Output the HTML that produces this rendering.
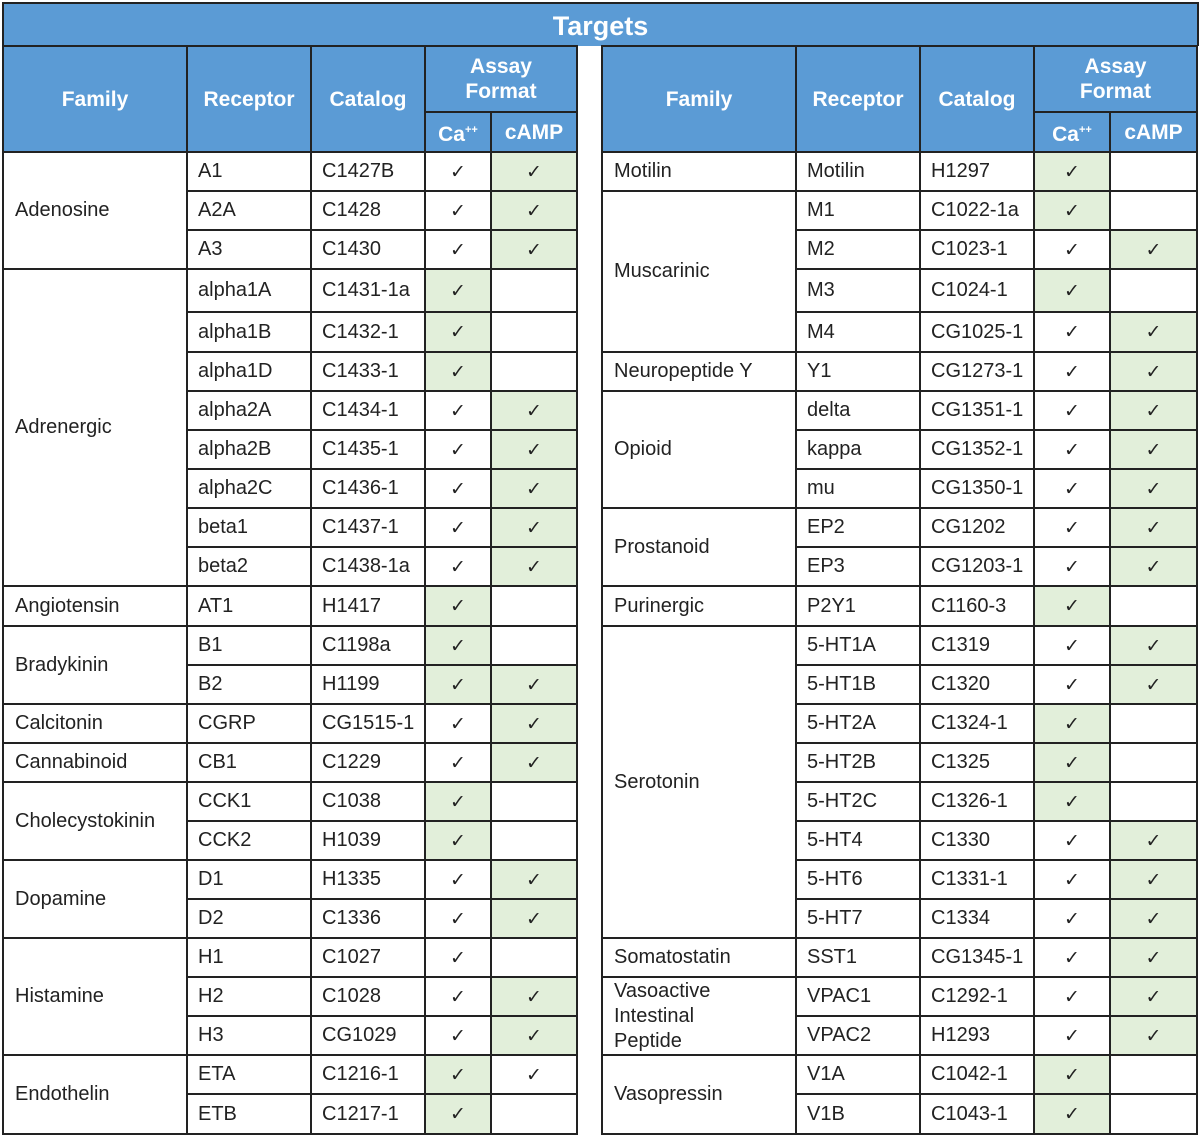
<!DOCTYPE html>
<html><head><meta charset="utf-8"><style>
body{margin:0;width:1200px;height:1137px;background:#fff;position:relative;font-family:"Liberation Sans",sans-serif;}
.title{position:absolute;left:2px;top:2px;width:1193px;height:42px;background:#5b9bd5;border:2px solid #222;border-bottom:none;color:#fff;font-weight:bold;font-size:27px;text-align:center;line-height:44px;}
table{position:absolute;top:45px;border-collapse:collapse;table-layout:fixed;}
td,th{border:2px solid #222;padding:0;font-size:20px;color:#222;}
th{background:#5b9bd5;color:#fff;font-size:21px;font-weight:bold;text-align:center;line-height:25px;}
td{padding-left:10px;white-space:nowrap;}
td.f{padding-left:11px;white-space:normal;line-height:25px;}
td.k{text-align:center;padding:0;font-family:"DejaVu Sans",sans-serif;font-size:19px;}
.g{background:#e2efda;}
sup{font-size:11px;}
</style></head><body>
<div class="title">Targets</div>
<table style="left:2px;width:574px">
<colgroup><col style="width:184px"><col style="width:124px"><col style="width:114px"><col style="width:66px"><col style="width:86px"></colgroup>
<tr style="height:66px"><th rowspan="2">Family</th><th rowspan="2">Receptor</th><th rowspan="2">Catalog</th><th colspan="2">Assay<br>Format</th></tr>
<tr style="height:40px"><th>Ca<sup>++</sup></th><th>cAMP</th></tr>
<tr style="height:39px"><td class="f" rowspan="3">Adenosine</td><td>A1</td><td>C1427B</td><td class="k">✓</td><td class="k g">✓</td></tr>
<tr style="height:39px"><td>A2A</td><td>C1428</td><td class="k">✓</td><td class="k g">✓</td></tr>
<tr style="height:39px"><td>A3</td><td>C1430</td><td class="k">✓</td><td class="k g">✓</td></tr>
<tr style="height:43px"><td class="f" rowspan="8">Adrenergic</td><td>alpha1A</td><td>C1431-1a</td><td class="k g">✓</td><td class="k"></td></tr>
<tr style="height:40px"><td>alpha1B</td><td>C1432-1</td><td class="k g">✓</td><td class="k"></td></tr>
<tr style="height:39px"><td>alpha1D</td><td>C1433-1</td><td class="k g">✓</td><td class="k"></td></tr>
<tr style="height:39px"><td>alpha2A</td><td>C1434-1</td><td class="k">✓</td><td class="k g">✓</td></tr>
<tr style="height:39px"><td>alpha2B</td><td>C1435-1</td><td class="k">✓</td><td class="k g">✓</td></tr>
<tr style="height:39px"><td>alpha2C</td><td>C1436-1</td><td class="k">✓</td><td class="k g">✓</td></tr>
<tr style="height:39px"><td>beta1</td><td>C1437-1</td><td class="k">✓</td><td class="k g">✓</td></tr>
<tr style="height:39px"><td>beta2</td><td>C1438-1a</td><td class="k">✓</td><td class="k g">✓</td></tr>
<tr style="height:40px"><td class="f">Angiotensin</td><td>AT1</td><td>H1417</td><td class="k g">✓</td><td class="k"></td></tr>
<tr style="height:39px"><td class="f" rowspan="2">Bradykinin</td><td>B1</td><td>C1198a</td><td class="k g">✓</td><td class="k"></td></tr>
<tr style="height:39px"><td>B2</td><td>H1199</td><td class="k g">✓</td><td class="k g">✓</td></tr>
<tr style="height:39px"><td class="f">Calcitonin</td><td>CGRP</td><td>CG1515-1</td><td class="k">✓</td><td class="k g">✓</td></tr>
<tr style="height:39px"><td class="f">Cannabinoid</td><td>CB1</td><td>C1229</td><td class="k">✓</td><td class="k g">✓</td></tr>
<tr style="height:39px"><td class="f" rowspan="2">Cholecystokinin</td><td>CCK1</td><td>C1038</td><td class="k g">✓</td><td class="k"></td></tr>
<tr style="height:39px"><td>CCK2</td><td>H1039</td><td class="k g">✓</td><td class="k"></td></tr>
<tr style="height:39px"><td class="f" rowspan="2">Dopamine</td><td>D1</td><td>H1335</td><td class="k">✓</td><td class="k g">✓</td></tr>
<tr style="height:39px"><td>D2</td><td>C1336</td><td class="k">✓</td><td class="k g">✓</td></tr>
<tr style="height:39px"><td class="f" rowspan="3">Histamine</td><td>H1</td><td>C1027</td><td class="k">✓</td><td class="k"></td></tr>
<tr style="height:39px"><td>H2</td><td>C1028</td><td class="k">✓</td><td class="k g">✓</td></tr>
<tr style="height:39px"><td>H3</td><td>CG1029</td><td class="k">✓</td><td class="k g">✓</td></tr>
<tr style="height:39px"><td class="f" rowspan="2">Endothelin</td><td>ETA</td><td>C1216-1</td><td class="k g">✓</td><td class="k">✓</td></tr>
<tr style="height:40px"><td>ETB</td><td>C1217-1</td><td class="k g">✓</td><td class="k"></td></tr>
</table>
<table style="left:601px;width:595px">
<colgroup><col style="width:194px"><col style="width:124px"><col style="width:114px"><col style="width:76px"><col style="width:87px"></colgroup>
<tr style="height:66px"><th rowspan="2">Family</th><th rowspan="2">Receptor</th><th rowspan="2">Catalog</th><th colspan="2">Assay<br>Format</th></tr>
<tr style="height:40px"><th>Ca<sup>++</sup></th><th>cAMP</th></tr>
<tr style="height:39px"><td class="f">Motilin</td><td>Motilin</td><td>H1297</td><td class="k g">✓</td><td class="k"></td></tr>
<tr style="height:39px"><td class="f" rowspan="4">Muscarinic</td><td>M1</td><td>C1022-1a</td><td class="k g">✓</td><td class="k"></td></tr>
<tr style="height:39px"><td>M2</td><td>C1023-1</td><td class="k">✓</td><td class="k g">✓</td></tr>
<tr style="height:43px"><td>M3</td><td>C1024-1</td><td class="k g">✓</td><td class="k"></td></tr>
<tr style="height:40px"><td>M4</td><td>CG1025-1</td><td class="k">✓</td><td class="k g">✓</td></tr>
<tr style="height:39px"><td class="f">Neuropeptide Y</td><td>Y1</td><td>CG1273-1</td><td class="k">✓</td><td class="k g">✓</td></tr>
<tr style="height:39px"><td class="f" rowspan="3">Opioid</td><td>delta</td><td>CG1351-1</td><td class="k">✓</td><td class="k g">✓</td></tr>
<tr style="height:39px"><td>kappa</td><td>CG1352-1</td><td class="k">✓</td><td class="k g">✓</td></tr>
<tr style="height:39px"><td>mu</td><td>CG1350-1</td><td class="k">✓</td><td class="k g">✓</td></tr>
<tr style="height:39px"><td class="f" rowspan="2">Prostanoid</td><td>EP2</td><td>CG1202</td><td class="k">✓</td><td class="k g">✓</td></tr>
<tr style="height:39px"><td>EP3</td><td>CG1203-1</td><td class="k">✓</td><td class="k g">✓</td></tr>
<tr style="height:40px"><td class="f">Purinergic</td><td>P2Y1</td><td>C1160-3</td><td class="k g">✓</td><td class="k"></td></tr>
<tr style="height:39px"><td class="f" rowspan="8">Serotonin</td><td>5-HT1A</td><td>C1319</td><td class="k">✓</td><td class="k g">✓</td></tr>
<tr style="height:39px"><td>5-HT1B</td><td>C1320</td><td class="k">✓</td><td class="k g">✓</td></tr>
<tr style="height:39px"><td>5-HT2A</td><td>C1324-1</td><td class="k g">✓</td><td class="k"></td></tr>
<tr style="height:39px"><td>5-HT2B</td><td>C1325</td><td class="k g">✓</td><td class="k"></td></tr>
<tr style="height:39px"><td>5-HT2C</td><td>C1326-1</td><td class="k g">✓</td><td class="k"></td></tr>
<tr style="height:39px"><td>5-HT4</td><td>C1330</td><td class="k">✓</td><td class="k g">✓</td></tr>
<tr style="height:39px"><td>5-HT6</td><td>C1331-1</td><td class="k">✓</td><td class="k g">✓</td></tr>
<tr style="height:39px"><td>5-HT7</td><td>C1334</td><td class="k">✓</td><td class="k g">✓</td></tr>
<tr style="height:39px"><td class="f">Somatostatin</td><td>SST1</td><td>CG1345-1</td><td class="k">✓</td><td class="k g">✓</td></tr>
<tr style="height:39px"><td class="f" rowspan="2">Vasoactive<br>Intestinal<br>Peptide</td><td>VPAC1</td><td>C1292-1</td><td class="k">✓</td><td class="k g">✓</td></tr>
<tr style="height:39px"><td>VPAC2</td><td>H1293</td><td class="k">✓</td><td class="k g">✓</td></tr>
<tr style="height:39px"><td class="f" rowspan="2">Vasopressin</td><td>V1A</td><td>C1042-1</td><td class="k g">✓</td><td class="k"></td></tr>
<tr style="height:40px"><td>V1B</td><td>C1043-1</td><td class="k g">✓</td><td class="k"></td></tr>
</table>
</body></html>
